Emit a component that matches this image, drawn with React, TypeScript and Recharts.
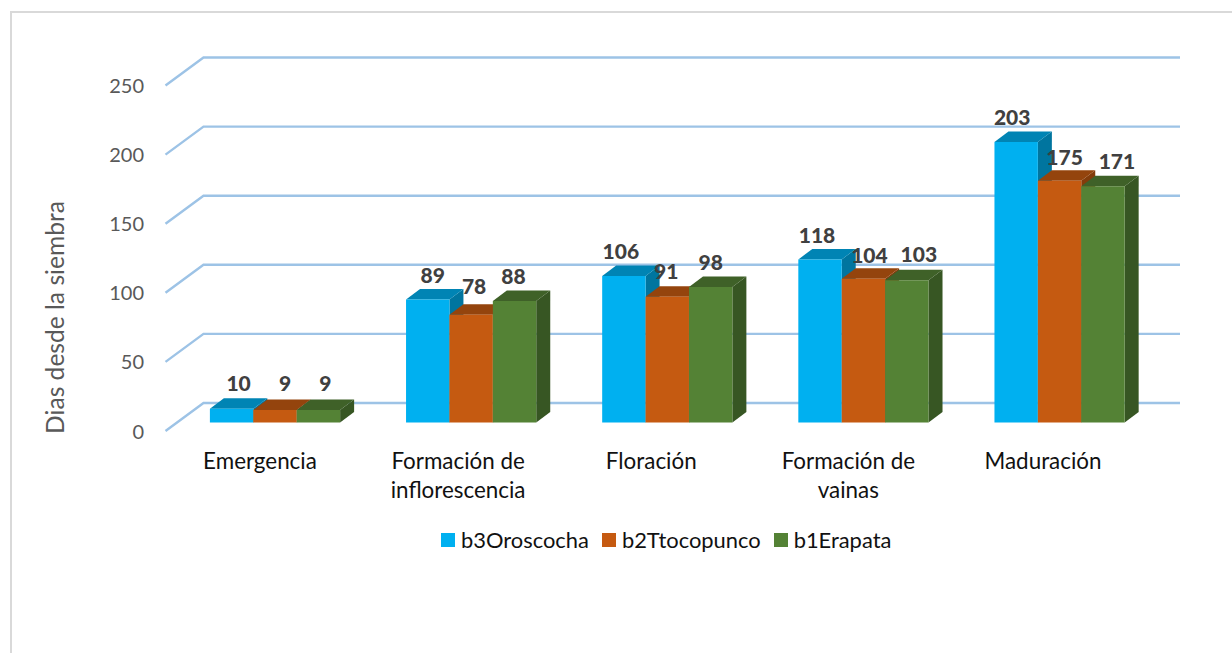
import React from "react";
import { BarChart, Bar, XAxis, YAxis, CartesianGrid, Legend, LabelList, Rectangle } from "recharts";

const categories = ["Emergencia", "Formación de inflorescencia", "Floración", "Formación de vainas", "Maduración"];
const b3Oroscocha = [10, 89, 106, 118, 203];
const b2Ttocopunco = [9, 78, 91, 104, 175];
const b1Erapata = [9, 88, 98, 103, 171];
const yTicks = [0, 50, 100, 150, 200, 250];

const data = categories.map((name, i) => ({
  name,
  b3Oroscocha: b3Oroscocha[i],
  b2Ttocopunco: b2Ttocopunco[i],
  b1Erapata: b1Erapata[i],
}));

const FONT = "Lato, Carlito, sans-serif";
const DX = 14;
const DY = 10.5;

// Hand placement of the data labels, as in the source chart: [dx, dy] from the bar's top centre.
const labelNudge: Record<string, number[][]> = {
  b3Oroscocha: [[7, -23], [5, -22], [-3, -22], [-3, -22], [-4, -22]],
  b2Ttocopunco: [[10, -24], [3, -26], [-1, -23], [6, -21], [5, -21]],
  b1Erapata: [[7, -24], [-1, -22], [0, -22], [12, -24], [14, -23]],
};
// Category labels sit slightly left of their groups in the source chart.
const tickNudge = [-15, -13, -16, -15, -16.5];

const faces: Record<string, { front: string; top: string; side: string }> = {
  b3Oroscocha: { front: "#00B0F0", top: "#0084B4", side: "#00759F" },
  b2Ttocopunco: { front: "#C55A11", top: "#94440D", side: "#833C0B" },
  b1Erapata: { front: "#548235", top: "#3F6128", side: "#375623" },
};

const Bar3D = (key: string) => (p: any) => {
  const { x, y, width, height } = p;
  const c = faces[key];
  const r = x + width;
  const b = y + height;
  return (
    <g>
      <polygon points={`${r},${y} ${r + DX},${y - DY} ${r + DX},${b - DY} ${r},${b}`} fill={c.side} />
      <polygon points={`${x},${y} ${x + DX},${y - DY} ${r + DX},${y - DY} ${r},${y}`} fill={c.top} />
      <Rectangle x={x} y={y} width={width} height={height} fill={c.front} />
    </g>
  );
};

const GridLine = (p: any) => {
  const y = p.y1;
  return (
    <polyline
      key={p.key}
      points={`165.5,${y + 8.5} 203.5,${y - 19.5} 1180,${y - 19.5}`}
      fill="none"
      stroke="#9DC3E6"
      strokeWidth={2.4}
    />
  );
};

const YTick = (p: any) => (
  <text x={144} y={p.y + 11} textAnchor="end" dominantBaseline="middle" fill="#595959" fontFamily={FONT} fontSize={20}>
    {p.payload.value}
  </text>
);

const wrapWords = (s: string) => {
  const m = s.match(/^(Formación de) (.+)$/);
  return m ? [m[1], m[2]] : [s];
};

const XTick = (p: any) => {
  const tx = p.x + tickNudge[p.index];
  return (
    <text x={tx} y={p.y} textAnchor="middle" fill="#111" fontFamily={FONT} fontSize={22.4}>
      {wrapWords(p.payload.value).map((l, i) => (
        <tspan key={i} x={tx} y={469 + i * 29}>{l}</tspan>
      ))}
    </text>
  );
};

const DataLabel = (key: string) => (p: any) => {
  const [dx, dy] = labelNudge[key][p.index];
  return (
    <text
      x={p.x + p.width / 2 + dx}
      y={p.y + dy}
      textAnchor="middle"
      dominantBaseline="middle"
      fill="#404040"
      fontFamily={FONT}
      fontWeight={900}
      fontSize={21}
    >
      {p.value}
    </text>
  );
};

const LegendBox = (p: any) => (
  <div style={{ display: "flex", fontFamily: FONT, fontSize: 21.9, color: "#111", lineHeight: "24px", whiteSpace: "nowrap" }}>
    {p.payload.map((e: any) => (
      <span key={e.value} style={{ display: "inline-flex", alignItems: "center", marginRight: 13 }}>
        <span style={{ width: 14, height: 14, background: e.color, marginRight: 6, display: "inline-block" }} />
        {e.value}
      </span>
    ))}
  </div>
);

const series = ["b3Oroscocha", "b2Ttocopunco", "b1Erapata"];

export default function App() {
  return (
    <div style={{ position: "absolute", left: 0, top: 0, width: 1232, height: 653, background: "#fff", overflow: "hidden" }}>
      <div style={{ position: "absolute", left: 10, top: 11, width: 1300, height: 700, border: "2px solid #D9D9D9" }} />
      <BarChart
        width={1232}
        height={653}
        data={data}
        barSize={43.4}
        barGap={0}
        margin={{ top: 77, bottom: 229.5, left: 175.9, right: 74.4 }}
        style={{ position: "absolute", left: 0, top: 0 }}
      >
        <CartesianGrid vertical={false} horizontal={GridLine as any} />
        <XAxis dataKey="name" axisLine={false} tickLine={false} height={1} interval={0} tick={XTick as any} />
        <YAxis
          width={1}
          domain={[0, 250]}
          ticks={yTicks}
          axisLine={false}
          tickLine={false}
          tick={YTick as any}
          label={{
            value: "Dias desde la siembra",
            content: () => (
              <text
                x={58}
                y={317.5}
                transform="rotate(-90 58 317.5)"
                textAnchor="middle"
                dominantBaseline="middle"
                fill="#595959"
                fontFamily={FONT}
                fontSize={24.6}
              >
                Dias desde la siembra
              </text>
            ),
          }}
        />
        <Legend
          content={LegendBox as any}
          layout="horizontal"
          verticalAlign="middle"
          itemSorter={null as any}
          wrapperStyle={{ position: "absolute", left: 441, top: 528, width: "auto", bottom: "auto" }}
        />
        {series.map((k) => (
          <Bar key={k} dataKey={k} fill={faces[k].front} shape={Bar3D(k) as any} isAnimationActive={false}>
            <LabelList dataKey={k} content={DataLabel(k) as any} />
          </Bar>
        ))}
      </BarChart>
    </div>
  );
}
